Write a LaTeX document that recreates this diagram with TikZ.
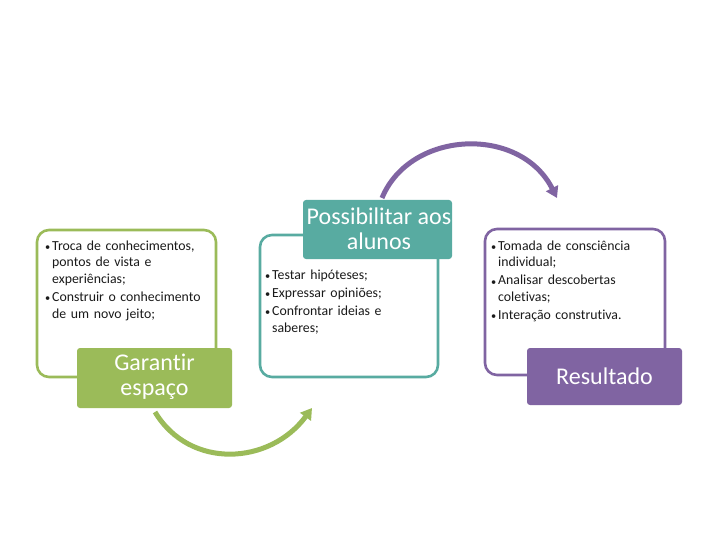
\documentclass[tikz,border=0pt]{standalone}
\usepackage{fontspec}
\setmainfont{Carlito}[Ligatures={NoCommon}]
\usetikzlibrary{arrows.meta}
\definecolor{pgreen}{HTML}{9BBB59}
\definecolor{pteal}{HTML}{58ABA1}
\definecolor{ppurple}{HTML}{8064A2}
\definecolor{ptext}{HTML}{1A1A1A}
\newcommand{\bitem}[1]{\par\hangindent=7pt\hangafter=1\noindent\makebox[7pt][l]{\scalebox{0.75}{\textbullet}}#1}
\newcommand{\blist}[1]{\raggedright\setlength\parskip{1.5pt}#1\par}
\tikzset{
  outline/.style={line width=2.6pt, rounded corners=12pt},
  titlebox/.style={rounded corners=3pt, text=white, align=center, font=\fontsize{24}{24.5}\selectfont},
  bullets/.style={anchor=north west, inner sep=0pt, text width=200pt, text=ptext, font=\fontsize{13.8}{16.6}\selectfont},
  flow/.style={line width=5pt, -{Triangle[length=11pt,width=13pt]}}
}
\begin{document}
\begin{tikzpicture}[x=1pt,y=-1pt]
\useasboundingbox (0,0) rectangle (720,540);
\fill[white] (0,0) rectangle (720,540);
% panel 1
\draw[outline, pgreen] (37,230) rectangle (216,377);
\node[bullets] (t1) at (45,232) {\blist{%
\bitem{Troca de conhecimentos,\newline pontos de vista e\newline experiências;}%
\bitem{Construir o conhecimento\newline de um novo jeito;}}};
\fill[pgreen, rounded corners=3pt] (77,348) rectangle (232,408);
\node[titlebox] (b1) at (154.5,377) {Garantir\\ espaço};
% panel 2
\draw[outline, pteal] (260,235) rectangle (438,377);
\fill[pteal, rounded corners=3pt] (303,200) rectangle (452,259);
\node[titlebox] (b2) at (379,229) {Possibilitar aos\\ alunos};
\node[bullets] (t2) at (265,261) {\blist{%
\bitem{Testar hipóteses;}%
\bitem{Expressar opiniões;}%
\bitem{Confrontar ideias e\newline saberes;}}};
% panel 3
\draw[outline, ppurple] (485,229) rectangle (665,375);
\node[bullets] (t3) at (491,232) {\blist{%
\bitem{Tomada de consciência\newline individual;}%
\bitem{Analisar descobertas\newline coletivas;}%
\bitem{Interação construtiva.}}};
\fill[ppurple, rounded corners=3pt] (527,348) rectangle (682,405);
\node[titlebox] (b3) at (604.5,376.5) {Resultado};
% arrows
\coordinate (g1) at (155,412);
\coordinate (g2) at (312,408);
\draw[flow, pgreen] (g1) .. controls (190,470) and (270,465) .. (g2);
\coordinate (p1) at (382,198);
\coordinate (p2) at (557,198);
\draw[flow, ppurple] (p1) .. controls (410,130) and (520,125) .. (p2);
\end{tikzpicture}
\end{document}
